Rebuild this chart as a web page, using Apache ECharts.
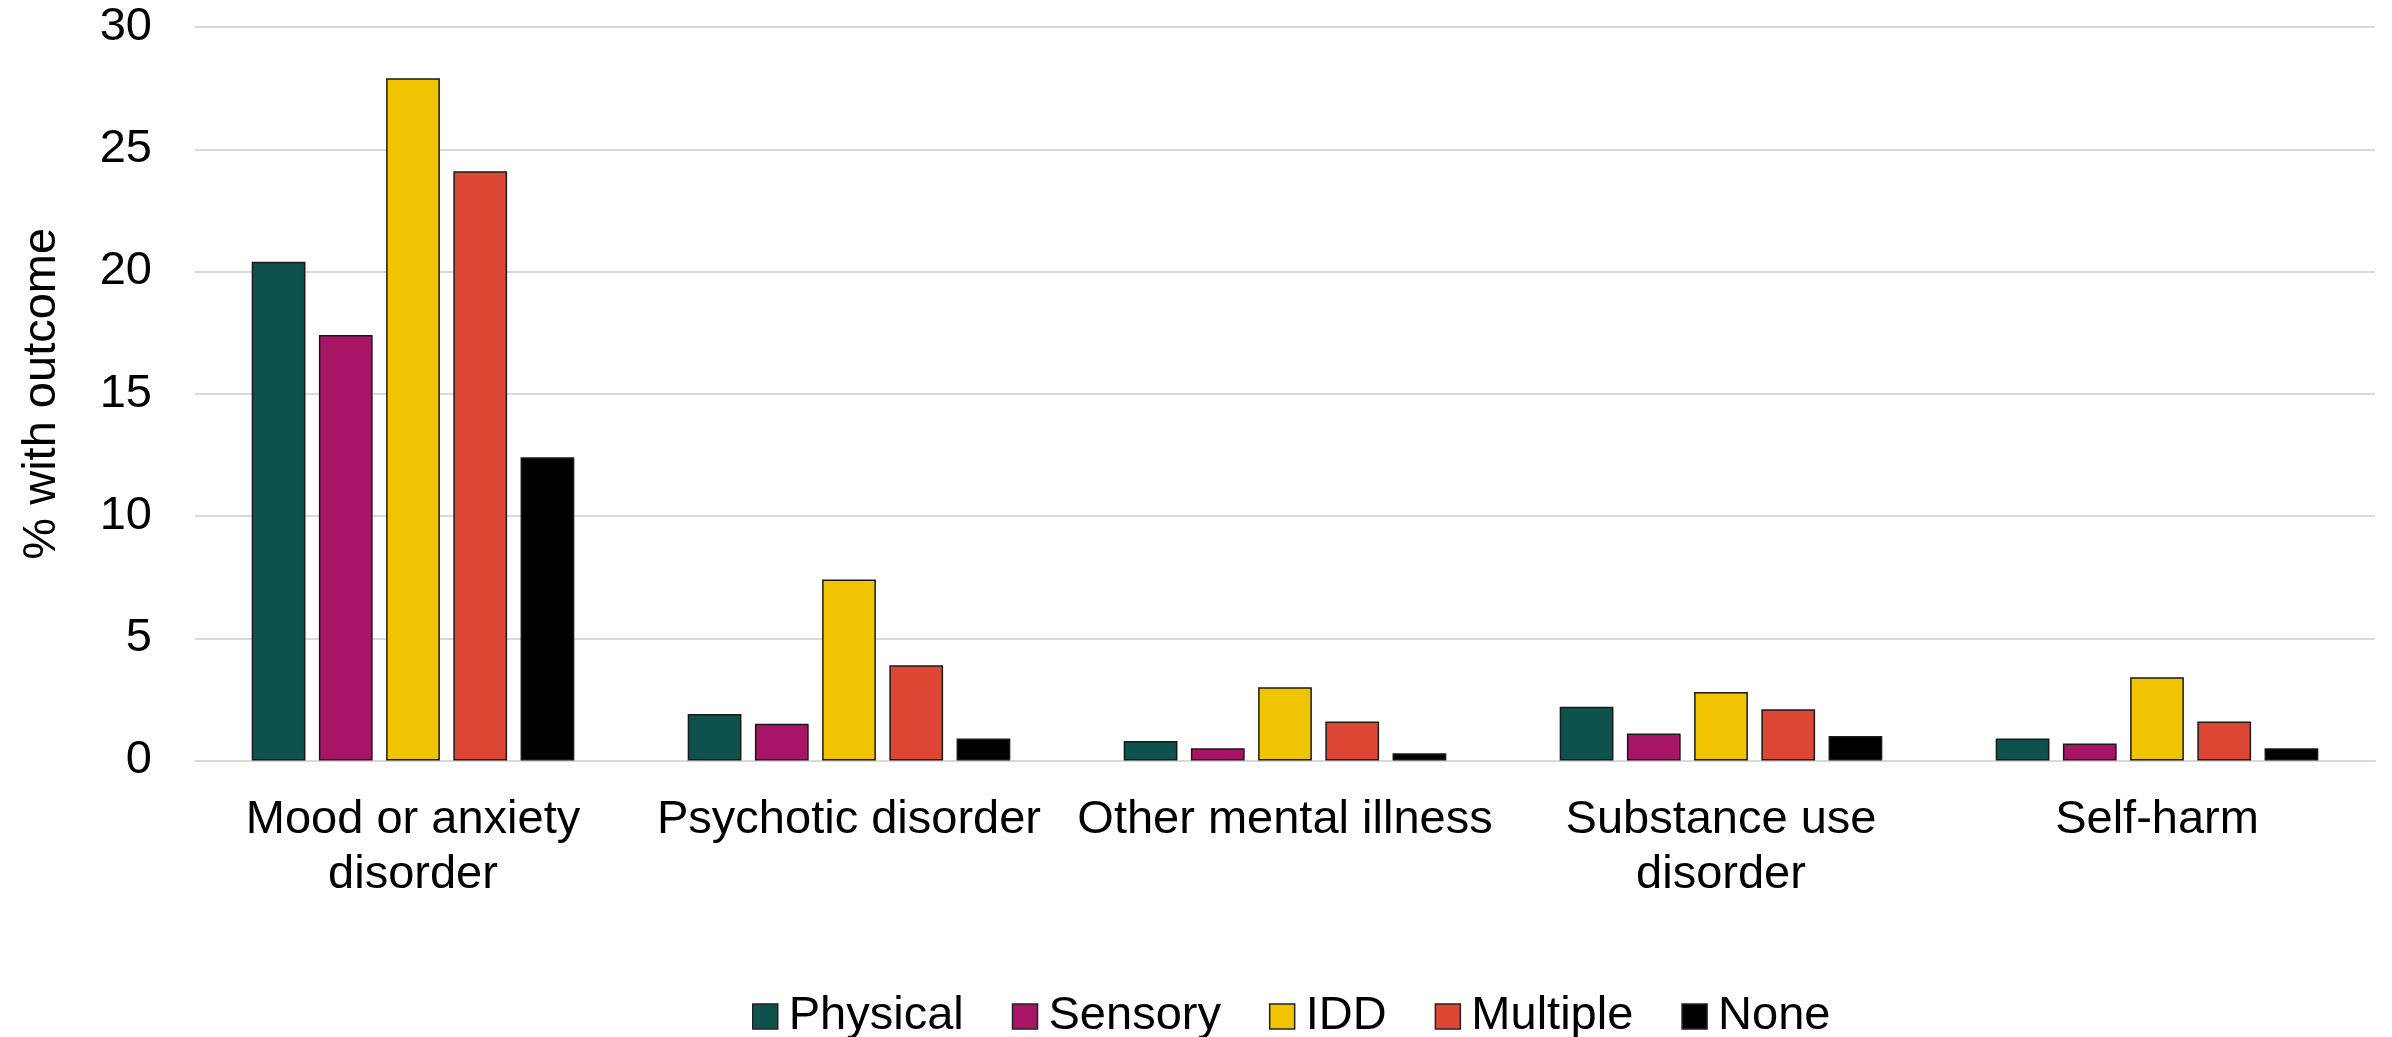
<!DOCTYPE html>
<html>
<head>
<meta charset="utf-8">
<script src="https://cdn.jsdelivr.net/npm/echarts@6/dist/echarts.min.js"></script>
<style>
  html, body { margin: 0; padding: 0; background: #ffffff; }
  #chart { width: 2392px; height: 1037px; }
</style>
</head>
<body>
<div id="chart"></div>
<script>
// Outcome categories along the x axis
const categories = [
  'Mood or anxiety\ndisorder',
  'Psychotic disorder',
  'Other mental illness',
  'Substance use\ndisorder',
  'Self-harm'
];

// Percentage with each outcome, by disability group
const physical = [20.4, 1.9, 0.8, 2.2, 0.9];
const sensory  = [17.4, 1.5, 0.5, 1.1, 0.7];
const idd      = [27.9, 7.4, 3.0, 2.8, 3.4];
const multiple = [24.1, 3.9, 1.6, 2.1, 1.6];
const none     = [12.4, 0.9, 0.3, 1.0, 0.5];

const seriesNames = ['Physical', 'Sensory', 'IDD', 'Multiple', 'None'];
const seriesData = [physical, sensory, idd, multiple, none];
const colors = ['#0E524D', '#A81566', '#F0C500', '#DD4733', '#000000'];

const yTicks = { min: 0, max: 30, interval: 5 };

const FONT = '"Liberation Sans", Arial, sans-serif';

const chart = echarts.init(document.getElementById('chart'), null, { renderer: 'canvas' });

chart.setOption({
  animation: false,
  backgroundColor: '#ffffff',
  color: colors,
  textStyle: { fontFamily: FONT, color: '#000000' },
  grid: {
    left: 195, right: 17, top: 27, bottom: 276.5,
    containLabel: false,
    outerBoundsMode: 'none'
  },
  legend: {
    data: seriesNames,
    left: 747,
    top: 988,
    itemWidth: 25,
    itemHeight: 25,
    itemGap: 48,
    icon: 'rect',
    textStyle: { fontFamily: FONT, fontSize: 47, color: '#000000', padding: [0, 0, 0, 6] },
    itemStyle: { borderColor: '#222222', borderWidth: 1.5 }
  },
  xAxis: {
    type: 'category',
    data: categories,
    axisLine: { show: true, lineStyle: { color: '#d9d9d9', width: 2 } },
    axisTick: { show: false },
    axisLabel: {
      fontFamily: FONT,
      fontSize: 47,
      lineHeight: 55,
      color: '#000000',
      margin: 32,
      interval: 0
    }
  },
  yAxis: {
    type: 'value',
    min: yTicks.min,
    max: yTicks.max,
    interval: yTicks.interval,
    name: '% with outcome',
    nameLocation: 'middle',
    nameGap: 129,
    nameRotate: 90,
    nameTextStyle: { fontFamily: FONT, fontSize: 47, color: '#000000' },
    axisLine: { show: false },
    axisTick: { show: false },
    axisLabel: { fontFamily: FONT, fontSize: 47, color: '#000000', margin: 43 },
    splitLine: { show: true, lineStyle: { color: '#d9d9d9', width: 2 } }
  },
  series: seriesNames.map((name, i) => ({
    name: name,
    type: 'bar',
    data: seriesData[i],
    barGap: '25%',
    barCategoryGap: '26%',
    itemStyle: { color: colors[i], borderColor: '#1a1a1a', borderWidth: 1.5 }
  }))
});
</script>
</body>
</html>
